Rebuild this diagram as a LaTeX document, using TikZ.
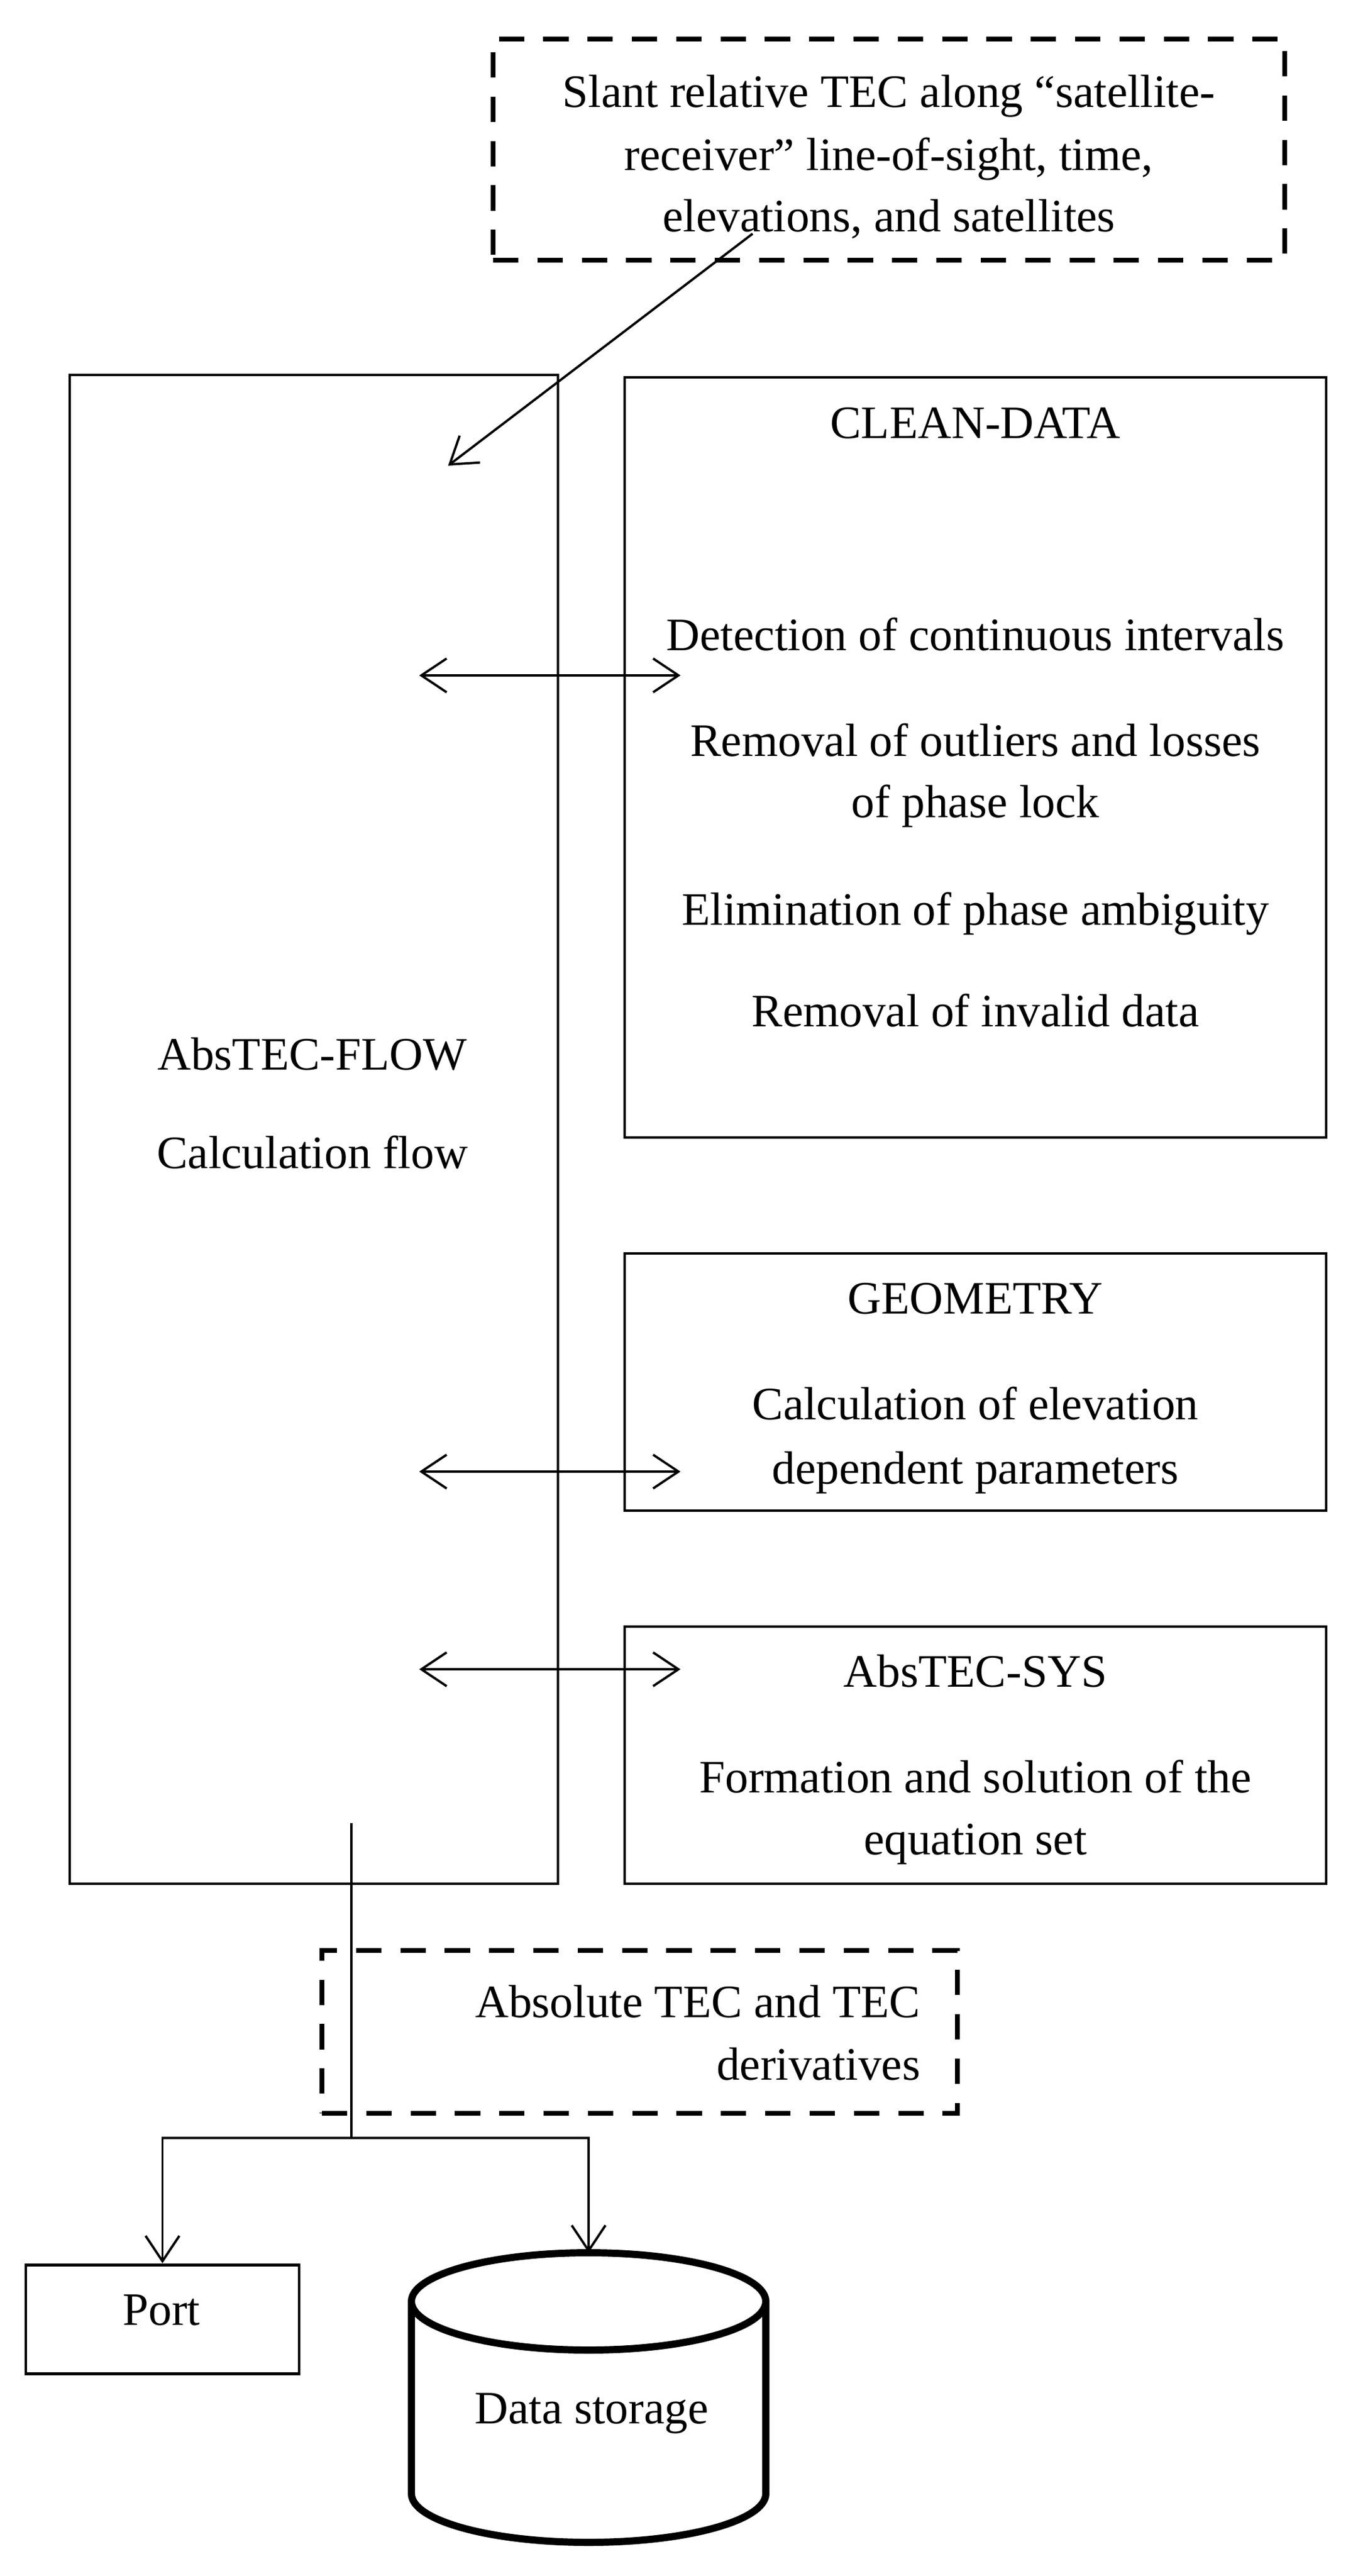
\documentclass[tikz,border=0pt]{standalone}
\usepackage{fontspec}
\setmainfont{Liberation Serif}
\usetikzlibrary{arrows.meta}

\begin{document}
\begin{tikzpicture}[
    box/.style={draw, line width=1.4pt, inner sep=0pt},
    dashbox/.style={draw, line width=2.4pt, dash pattern=on 12pt off 9pt, inner sep=0pt},
    txt/.style={anchor=base, inner sep=0pt, font=\fontsize{22}{30}\selectfont},
    link/.style={line width=1.1pt, -{Straight Barb[length=12pt, width=16pt]}},
    twoway/.style={line width=1.1pt, {Straight Barb[length=12pt, width=16pt]}-{Straight Barb[length=12pt, width=16pt]}}
]
    \useasboundingbox (0,0) rectangle (22.6,-42.87);

    % Input data
    \node[dashbox, minimum width=13.18cm, minimum height=3.68cm] (input) at (14.80,-2.49) {};
    \node[txt] (in1) at (14.80,-1.79) {Slant relative TEC along “satellite-};
    \node[txt] (in2) at (14.80,-2.84) {receiver” line-of-sight, time,};
    \node[txt] (in3) at (14.80,-3.86) {elevations, and satellites};

    % Main flow block
    \node[box, minimum width=8.13cm, minimum height=25.11cm] (flow) at (5.225,-18.795) {};
    \node[txt] (flowTitle) at (5.20,-17.80) {AbsTEC-FLOW};
    \node[txt] (flowSub) at (5.20,-19.44) {Calculation flow};

    % CLEAN-DATA
    \node[box, minimum width=11.68cm, minimum height=12.65cm] (clean) at (16.24,-12.605) {};
    \node[txt] (cleanTitle) at (16.24,-7.29) {CLEAN-DATA};
    \node[txt] (clean1) at (16.24,-10.82) {Detection of continuous intervals};
    \node[txt] (clean2a) at (16.24,-12.58) {Removal of outliers and losses};
    \node[txt] (clean2b) at (16.24,-13.60) {of phase lock};
    \node[txt] (clean3) at (16.24,-15.39) {Elimination of phase ambiguity};
    \node[txt] (clean4) at (16.24,-17.08) {Removal of invalid data};

    % GEOMETRY
    \node[box, minimum width=11.68cm, minimum height=4.28cm] (geom) at (16.24,-23.00) {};
    \node[txt] (geomTitle) at (16.24,-21.86) {GEOMETRY};
    \node[txt] (geom1) at (16.24,-23.62) {Calculation of elevation};
    \node[txt] (geom2) at (16.24,-24.69) {dependent parameters};

    % AbsTEC-SYS
    \node[box, minimum width=11.68cm, minimum height=4.28cm] (sys) at (16.24,-29.21) {};
    \node[txt] (sysTitle) at (16.24,-28.07) {AbsTEC-SYS};
    \node[txt] (sys1) at (16.24,-29.83) {Formation and solution of the};
    \node[txt] (sys2) at (16.24,-30.86) {equation set};

    % Input arrow
    \coordinate (inStart) at (12.53,-3.89);
    \coordinate (inEnd) at (7.46,-7.75);
    \draw[link] (inStart) -- (inEnd);

    % Exchange with the modules
    \foreach \y/\n in {11.24/clean, 24.49/geom, 27.78/sys} {
        \coordinate (l\n) at (6.98,-\y);
        \coordinate (r\n) at (11.33,-\y);
        \draw[twoway] (l\n) -- (r\n);
    }

    % Result
    \node[dashbox, minimum width=10.58cm, minimum height=2.71cm] (result) at (10.65,-33.815) {};
    \node[txt, anchor=base east] (res1) at (15.33,-33.57) {Absolute TEC and TEC};
    \node[txt, anchor=base east] (res2) at (15.33,-34.61) {derivatives};

    % Output branches
    \node[box, minimum width=4.55cm, minimum height=1.81cm] (port) at (2.705,-38.595) {};
    \node[txt] (portLbl) at (2.69,-38.69) {Port};

    \draw[line width=3.4pt] (9.80,-38.30) ellipse (2.95 and 0.81);
    \draw[line width=3.4pt] (6.85,-38.30) -- (6.85,-41.50) arc (180:360:2.95 and 0.81) -- (12.75,-38.30);
    \coordinate (storeTop) at (9.80,-37.49);
    \node[txt] (storeLbl) at (9.85,-40.33) {Data storage};

    \coordinate (outTop) at (5.85,-30.34);
    \coordinate (split) at (5.85,-35.58);
    \coordinate (splitL) at (2.705,-35.58);
    \coordinate (splitR) at (9.80,-35.58);
    \draw[line width=1.1pt] (outTop) -- (split);
    \draw[link] (split) -- (splitL) -- (port.north);
    \draw[link] (split) -- (splitR) -- (storeTop);
\end{tikzpicture}
\end{document}
